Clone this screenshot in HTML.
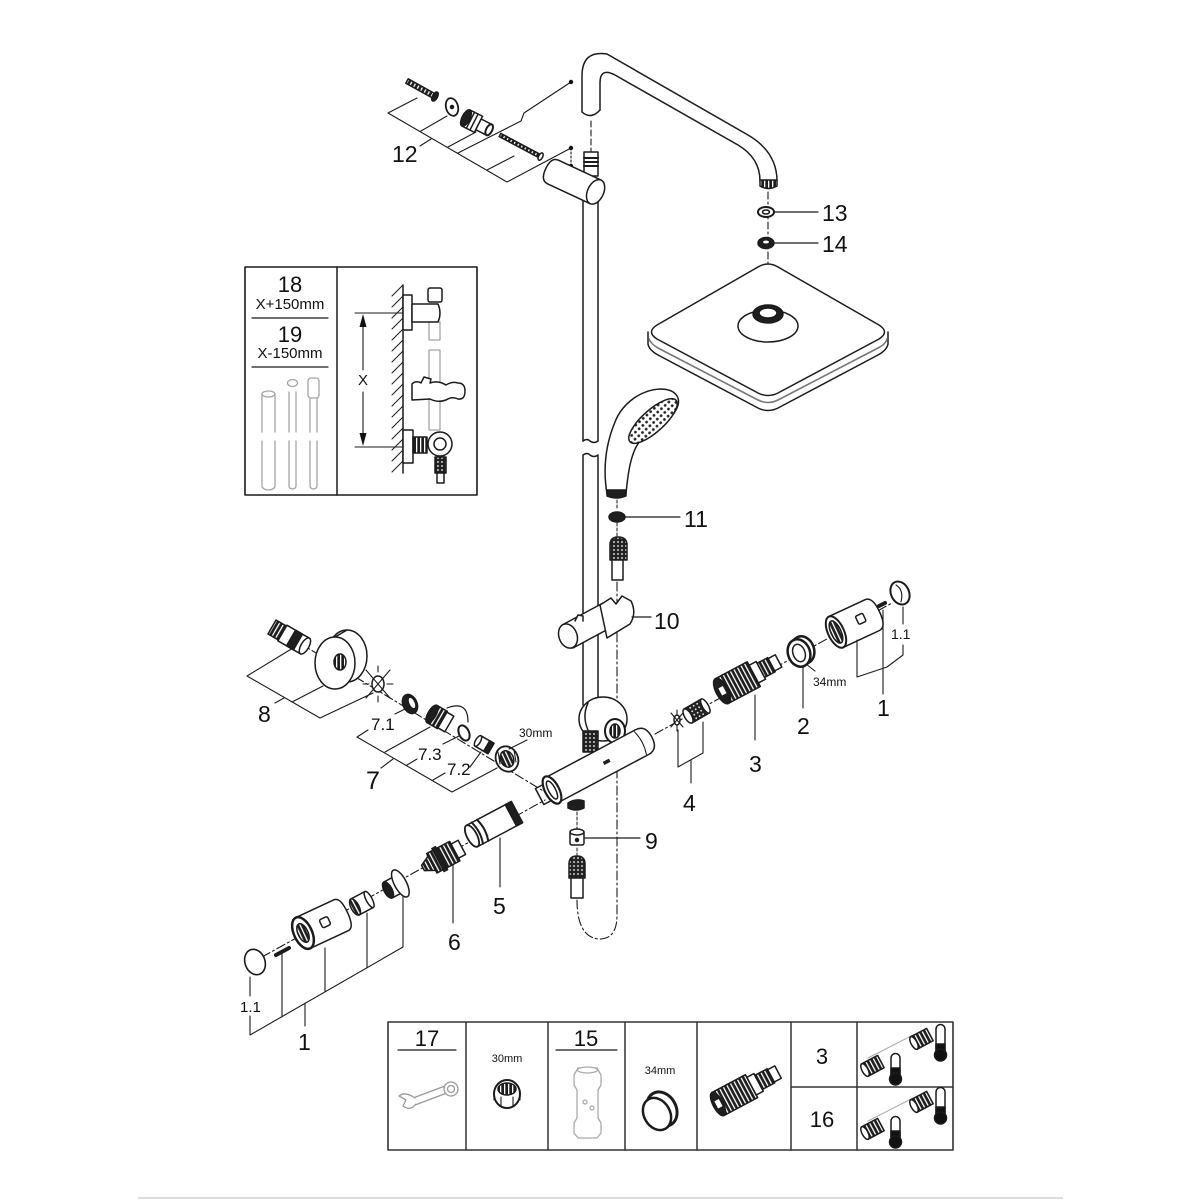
<!DOCTYPE html>
<html><head><meta charset="utf-8"><style>
html,body{margin:0;padding:0;background:#fff;width:1200px;height:1200px;overflow:hidden}
svg{display:block}
text{font-family:"Liberation Sans",Arial,sans-serif;fill:#111;stroke:none}
</style></head><body>
<svg width="1200" height="1200" viewBox="0 0 1200 1200" xmlns="http://www.w3.org/2000/svg">
<defs>
 <pattern id="thr" width="4" height="4" patternUnits="userSpaceOnUse"><rect width="4" height="4" fill="#1e1e1e"/><rect width="1.3" height="4" fill="#fff"/></pattern>
 <pattern id="dots" width="5" height="5" patternUnits="userSpaceOnUse"><rect width="5" height="5" fill="#fff"/><circle cx="2.5" cy="2.5" r="1.4" fill="#222"/></pattern>
 <pattern id="chk" width="4" height="4" patternUnits="userSpaceOnUse"><rect width="4" height="4" fill="#222"/><circle cx="2" cy="2" r="0.9" fill="#fff"/></pattern>
</defs>
<g fill="none" stroke="#1b1b1b" stroke-width="1.5" stroke-linejoin="round" stroke-linecap="round">

<!-- ===== shower arm ===== -->
<path d="M582,112 V76 Q582,50 607,54 L748,135 Q777,152 777,181"/>
<path d="M600,110 V83 Q600,67 615,75 L738,145 Q760,158 760,181"/>
<path d="M582,112 Q591,120 600,110"/>
<path d="M760,180 L777,180 L777,186 Q768,191 760,186 Z" fill="url(#thr)"/>
<path d="M591,121 V151" stroke-dasharray="6 3" stroke-width="1.1"/>
<path d="M768,192 V306" stroke-dasharray="7 3 2 3" stroke-width="1.1"/>

<!-- rings 13 / 14 -->
<ellipse cx="766" cy="212" rx="8" ry="5" fill="#fff" stroke-width="2"/>
<ellipse cx="766" cy="212" rx="3.5" ry="2"/>
<ellipse cx="766" cy="243" rx="8" ry="5.5" fill="#1e1e1e"/>
<ellipse cx="766" cy="242" rx="3" ry="1.5" fill="#fff" stroke="none"/>
<path d="M775,212 H818 M775,243 H818" stroke-width="1.2"/>

<!-- overhead shower -->
<path d="M648,332 V344 Q649,350 658,355 L758,408 Q768,413 778,408 L878,355 Q887,350 888,344 V332" fill="#fff"/>
<path d="M649,339 Q651,344 658,348 L758,400 Q768,405 778,400 L878,348 Q886,344 887,339" stroke="#777" stroke-width="1.6"/>
<path d="M758,267 Q768,261 778,267 L879,325 Q890,332 879,339 L778,393 Q768,398 758,393 L657,339 Q646,332 657,325 Z" fill="#fff"/>
<ellipse cx="768" cy="326" rx="30" ry="16" fill="#fff"/>
<ellipse cx="768" cy="314" rx="15" ry="9" fill="#1e1e1e"/>
<ellipse cx="768" cy="313" rx="9" ry="5" fill="#fff" stroke-width="1.6"/>

<!-- ===== part 12 ===== -->
<g transform="translate(407,81) rotate(29)">
 <rect x="0" y="-2.5" width="30" height="5" fill="url(#thr)"/>
 <ellipse cx="32" cy="0" rx="2.5" ry="5" fill="#1e1e1e"/>
</g>
<ellipse cx="452" cy="107" rx="6" ry="9" transform="rotate(-15 452 107)" fill="#fff" stroke-width="1.8"/>
<circle cx="452" cy="107" r="1.5" fill="#111"/>
<g transform="translate(466,118) rotate(27)">
 <rect x="0" y="-9" width="14" height="18" fill="#fff"/>
 <path d="M5,-9 V9 M9,-9 V9"/>
 <rect x="14" y="-6" width="12" height="12" fill="#fff"/>
 <ellipse cx="0" cy="0" rx="4" ry="9" fill="#1e1e1e"/>
 <ellipse cx="26" cy="0" rx="3" ry="6" fill="#fff" stroke-width="2"/>
</g>
<g transform="translate(500,135) rotate(28)">
 <rect x="0" y="-1.8" width="44" height="3.6" fill="url(#thr)"/>
 <ellipse cx="46" cy="0" rx="2" ry="4" fill="#fff"/>
</g>
<g stroke-width="1.1">
 <path d="M417,98 L388,113 L507,182 L571,148"/>
 <path d="M421,131 L447,116 M448,147 L476,132 M487,170 L514,156"/>
 <path d="M458,153 L521,121 L524,113 L571,82"/>
 <path d="M571,148 V166" stroke-dasharray="2 2"/>
 <path d="M420,146 L431,139"/>
</g>
<circle cx="571" cy="82" r="2.2" fill="#111" stroke="none"/>
<circle cx="571" cy="148" r="2.2" fill="#111" stroke="none"/>
<circle cx="571" cy="166" r="2.2" fill="#111" stroke="none"/>

<!-- ===== rail ===== -->
<path d="M583,196 V441 M598,196 V441"/>
<path d="M583,441 Q587,438 590,441 Q594,444 598,441"/>
<path d="M583,455 Q587,452 590,455 Q594,458 598,455 M583,455 V705 M598,455 V705"/>

<!-- top bracket -->
<rect x="584" y="152" width="14" height="24" fill="#fff"/>
<path d="M584,158 H598 M584,162 H598 M584,166 H598" stroke-width="2"/>
<g transform="translate(553,172) rotate(25)">
 <path d="M0,-13 H47 V13 H0 Q-8,13 -8,0 Q-8,-13 0,-13 Z" fill="#fff"/>
 <ellipse cx="47" cy="0" rx="8" ry="13" fill="#fff"/>
</g>

<!-- hand shower -->
<path d="M607,494 C603,470 605,446 615,422 C622,404 640,390 660,389 C677,389 682,399 676,410 C668,424 652,432 640,441 C631,452 628,472 626,494 Z" fill="#fff"/>
<ellipse cx="653" cy="421" rx="31" ry="11" transform="rotate(-42 653 421)" fill="url(#dots)"/>
<path d="M607,490 H626 V496 Q617,500 607,496 Z" fill="#1e1e1e"/>
<path d="M617,500 V510" stroke-dasharray="3 2" stroke-width="1"/>
<ellipse cx="617" cy="517" rx="8" ry="5" fill="#1e1e1e"/>
<path d="M626,517 H680" stroke-width="1.2"/>
<path d="M617,523 V536" stroke-dasharray="3 2" stroke-width="1"/>
<path d="M610,560 V545 Q610,537 618,537 Q627,537 627,545 V560 Z" fill="url(#chk)"/>
<rect x="612" y="560" width="11" height="20" fill="#fff"/>

<!-- dash-dot hose line -->
<path d="M617,582 V915 Q617,940 598,939 Q577,936 577,900" stroke-dasharray="9 3 2 3" stroke-width="1.1"/>

<!-- slider 10 -->
<path d="M564,624 L603,603 L612,627 L573,648 Z" fill="#fff"/>
<ellipse cx="568" cy="636" rx="9" ry="12.5" transform="rotate(-20 568 636)" fill="#fff"/>
<path d="M575,621 l3,-6 l5,1 l0,5" fill="#fff"/>
<path d="M600,605 L611,598 L616,604 L622,596 L631,601 Q637,613 630,624 L607,638 Z" fill="#fff"/>
<path d="M632,617 H651" stroke-width="1.2"/>

<!-- wall bracket disc -->
<ellipse cx="603" cy="719" rx="24" ry="22" fill="#fff"/>
<path d="M588,703 Q581,718 590,734"/>
<ellipse cx="615" cy="731" rx="10" ry="12" fill="#fff" stroke-width="2"/>
<ellipse cx="615" cy="731" rx="5" ry="7" fill="url(#thr)"/>
<path d="M583,731 H598 V752 H583 Z" fill="url(#chk)"/>

<!-- thermostat -->
<g transform="translate(552,790) rotate(-28)">
 <rect x="-14" y="-9" width="16" height="18" fill="#fff"/>
 <path d="M0,-14 H102 Q113,-14 113,0 Q113,14 102,14 H0 Z" fill="#fff"/>
 <path d="M100,-13 Q104,0 100,13" stroke-width="1"/>
 <ellipse cx="0" cy="0" rx="7" ry="15" fill="#fff" stroke-width="2.2"/>
 <ellipse cx="0" cy="0" rx="3.5" ry="10" fill="#fff"/>
 <rect x="58" y="-1" width="7" height="3.5" fill="#1e1e1e" stroke="none"/>
</g>
<path d="M568,803 Q576,798 584,801 L584,808 Q576,812 568,808 Z" fill="#1e1e1e"/>

<!-- 9 -->
<path d="M577,812 V829 M577,848 V855" stroke-dasharray="3 2" stroke-width="1"/>
<rect x="570" y="831" width="14" height="14" rx="2" fill="#fff"/>
<ellipse cx="577" cy="832" rx="7" ry="3" fill="#fff"/>
<circle cx="577" cy="840" r="1.5" fill="#1e1e1e"/>
<path d="M585,838 H640" stroke-width="1.2"/>
<path d="M569,878 V864 Q569,856 577,856 Q585,856 585,864 V878 Z" fill="url(#chk)"/>
<rect x="571" y="878" width="12" height="20" fill="#fff"/>

<!-- ===== left axis parts 8 / 7 ===== -->
<path d="M283,633 L545,792" stroke-dasharray="9 3 2 3" stroke-width="1.1"/>
<g transform="translate(272,627) rotate(30)">
 <rect x="0" y="-8" width="12" height="16" fill="url(#thr)"/>
 <rect x="12" y="-9" width="26" height="18" fill="#fff"/>
 <rect x="22" y="-9" width="8" height="18" fill="#1e1e1e"/>
 <ellipse cx="38" cy="0" rx="4" ry="9" fill="#fff"/>
</g>
<ellipse cx="347" cy="656" rx="20" ry="26" fill="#fff"/>
<path d="M335,637 L347,630 L347,682 L335,689 Z" fill="#fff" stroke="none"/>
<path d="M335,637 L347,630 M335,689 L347,682"/>
<ellipse cx="335" cy="663" rx="20" ry="26" fill="#fff"/>
<ellipse cx="340" cy="662" rx="6" ry="8" fill="url(#thr)"/>
<ellipse cx="378" cy="684" rx="6" ry="8" fill="#fff"/>
<path d="M366,670 L390,698 M390,670 L366,698 M378,666 V672 M378,696 V702 M363,684 H369 M387,684 H393" stroke-width="1.1"/>
<ellipse cx="410" cy="704" rx="7" ry="10" transform="rotate(-25 410 704)" fill="#1e1e1e"/>
<ellipse cx="412" cy="703" rx="2.5" ry="5.5" transform="rotate(-25 412 703)" fill="#fff" stroke="none"/>
<g transform="translate(432,714) rotate(30)">
 <rect x="0" y="-10" width="12" height="20" fill="url(#thr)"/>
 <rect x="12" y="-9" width="8" height="18" fill="#fff"/>
 <ellipse cx="0" cy="0" rx="4" ry="10" fill="#1e1e1e"/>
</g>
<path d="M447,708 Q468,700 468,722" stroke-width="1.2"/>
<ellipse cx="464" cy="733" rx="5" ry="8" transform="rotate(-25 464 733)" fill="#fff" stroke-width="2"/>
<g transform="translate(478,741) rotate(30)">
 <rect x="0" y="-6" width="15" height="12" fill="#fff"/>
 <rect x="10" y="-6" width="5" height="12" fill="#1e1e1e"/>
 <ellipse cx="0" cy="0" rx="2.5" ry="6" fill="#fff"/>
</g>
<ellipse cx="507" cy="759" rx="11" ry="13" transform="rotate(-25 507 759)" fill="#fff" stroke-width="1.8"/>
<ellipse cx="507" cy="759" rx="6.5" ry="8.5" transform="rotate(-25 507 759)" fill="url(#thr)"/>
<path d="M498,752 L500,764 M514,750 L516,762" stroke-width="1"/>
<g stroke-width="1.1">
 <path d="M293,648 L247,676 L320,718 L373,693 M292,702 L323,686 M275,703 L284,698"/>
 <path d="M368,730 L357,737 L452,792 L497,768"/>
 <path d="M395,714 L405,709 M385,752 L430,727 M407,765 L417,759 M443,744 L459,736 M433,780 L445,773 M470,767 L481,752 M381,768 L393,759 M527,740 L509,749"/>
</g>

<!-- ===== right axis parts 4 3 2 1 ===== -->
<path d="M655,734 L892,603" stroke-dasharray="9 3 2 3" stroke-width="1.1"/>
<ellipse cx="677" cy="720" rx="3" ry="5" fill="#fff"/>
<path d="M671,713 L683,727 M683,713 L671,727 M677,710 V714 M677,726 V731" stroke-width="1.1"/>
<g transform="translate(688,716) rotate(-30)">
 <rect x="0" y="-8" width="20" height="16" fill="url(#chk)"/>
 <ellipse cx="0" cy="0" rx="3.5" ry="8" fill="#fff"/>
 <ellipse cx="20" cy="0" rx="3" ry="8" fill="#fff"/>
</g>
<g transform="translate(722,691) rotate(-28)">
 <rect x="0" y="-14" width="36" height="28" fill="url(#thr)"/>
 <ellipse cx="0" cy="0" rx="6" ry="14" fill="#1e1e1e"/>
 <rect x="-2" y="-4" width="5" height="8" fill="#fff" stroke="none"/>
 <rect x="36" y="-10" width="8" height="20" fill="#fff"/>
 <rect x="44" y="-8" width="12" height="16" fill="url(#thr)"/>
 <rect x="56" y="-7" width="8" height="14" fill="#fff"/>
</g>
<ellipse cx="803" cy="650" rx="11" ry="14" transform="rotate(-20 803 650)" fill="#fff" stroke-width="2.5"/>
<ellipse cx="799" cy="653" rx="11" ry="14" transform="rotate(-20 799 653)" fill="#fff" stroke-width="2.5"/>
<ellipse cx="799" cy="653" rx="6" ry="9" transform="rotate(-20 799 653)" fill="#fff"/>
<g transform="translate(836,632) rotate(-25)">
 <path d="M0,-17 H40 Q48,-17 48,0 Q48,17 40,17 H0 Z" fill="#fff"/>
 <ellipse cx="0" cy="0" rx="8" ry="17" fill="#fff" stroke-width="2"/>
 <ellipse cx="0" cy="0" rx="5" ry="12" fill="url(#thr)"/>
 <rect x="24" y="-6" width="8" height="9" rx="1.5" fill="#fff"/>
</g>
<path d="M879,606 L885,603" stroke-width="4"/>
<ellipse cx="900" cy="593" rx="9" ry="12" transform="rotate(-25 900 593)" fill="#fff" stroke-width="2"/>
<path d="M896,585 Q904,590 901,602" stroke-width="1.1"/>
<g stroke-width="1.1">
 <path d="M678,730 V767 L703,753 V722 M691,760 V783"/>
 <path d="M755,695 V740"/>
 <path d="M803,666 V708"/>
 <path d="M815,671 L806,664"/>
 <path d="M857,640 V677 L887,667 L903,655 V645 M883,610 V694 M903,607 V624"/>
</g>

<!-- ===== bottom-left parts ===== -->
<path d="M262,957 L545,800" stroke-dasharray="9 3 2 3" stroke-width="1.1"/>
<g transform="translate(472,836) rotate(-28)">
 <rect x="0" y="-12" width="50" height="24" fill="#fff"/>
 <ellipse cx="0" cy="0" rx="5" ry="12" fill="#fff" stroke-width="1.8"/>
 <path d="M6,-12 Q10,0 6,12 M12,-12 Q16,0 12,12" stroke-width="2"/>
 <rect x="44" y="-12" width="7" height="24" fill="#1e1e1e"/>
</g>
<g transform="translate(423,868) rotate(-28)">
 <path d="M0,-3 L10,-8 V8 L0,3 Z" fill="url(#thr)"/>
 <rect x="10" y="-11" width="26" height="22" fill="url(#thr)"/>
 <rect x="17" y="-13" width="4" height="26" fill="#1e1e1e"/>
 <rect x="36" y="-8" width="8" height="16" fill="#fff"/>
</g>
<g transform="translate(388,890) rotate(-28)">
 <rect x="0" y="-9" width="12" height="18" fill="#fff"/>
 <ellipse cx="14" cy="0" rx="6" ry="15" fill="#fff"/>
 <ellipse cx="0" cy="0" rx="4" ry="9" fill="#1e1e1e"/>
</g>
<g transform="translate(355,907) rotate(-28)">
 <rect x="0" y="-9" width="16" height="18" fill="#fff"/>
 <ellipse cx="0" cy="0" rx="4" ry="9" fill="url(#thr)"/>
 <ellipse cx="16" cy="0" rx="3" ry="9" fill="#fff"/>
</g>
<g transform="translate(303,933) rotate(-25)">
 <path d="M0,-17 H42 Q49,-17 49,0 Q49,17 42,17 H0 Z" fill="#fff"/>
 <ellipse cx="0" cy="0" rx="9" ry="17" fill="#fff" stroke-width="2.5"/>
 <ellipse cx="0" cy="0" rx="5" ry="10" fill="url(#thr)"/>
 <rect x="20" y="-5" width="9" height="9" rx="2" fill="#fff"/>
</g>
<path d="M276,955 L289,948" stroke-width="4"/>
<ellipse cx="255" cy="962" rx="10" ry="13" transform="rotate(-20 255 962)" fill="#fff" stroke-width="1.6"/>
<g stroke-width="1.1">
 <path d="M250,977 V996 M250,1016 V1035 L403,947 V896 M282,952 V1017 M325,948 V992 M367,913 V968 M305,1003 V1026"/>
 <path d="M500,838 V887 M453,865 V923"/>
</g>

<!-- ===== inset box ===== -->
<rect x="245" y="267" width="232" height="228" stroke-width="1.6"/>
<path d="M337,267 V495"/>
<path d="M252,318 H328 M252,367 H328" stroke-width="1.2"/>
<g stroke="#a5a5a5" stroke-width="1.3" fill="#fff">
 <path d="M262,432 V394 M275,394 V432 M262,441 V486 A6.5,4 0 0 0 275,486 V441"/>
 <ellipse cx="268.5" cy="394" rx="6.5" ry="3"/>
 <path d="M289,432 V392 M296,392 V432 M289,441 V486 A3.5,3 0 0 0 296,486 V441"/>
 <ellipse cx="292.5" cy="383" rx="5" ry="3.5"/>
 <path d="M310,432 V398 M317,398 V432 M310,441 V486 A3.5,3 0 0 0 317,486 V441"/>
 <rect x="308" y="378" width="11" height="20" rx="3"/>
 <rect x="429" y="322" width="11" height="18"/>
 <rect x="429" y="350" width="11" height="80"/>
</g>
<path d="M403,285 V473"/>
<path d="M392,296 L403,285 M392,307 L403,296 M392,318 L403,307 M392,329 L403,318 M392,340 L403,329 M392,351 L403,340 M392,362 L403,351 M392,373 L403,362 M392,384 L403,373 M392,395 L403,384 M392,406 L403,395 M392,417 L403,406 M392,428 L403,417 M392,439 L403,428 M392,450 L403,439 M392,461 L403,450 M392,472 L403,461" stroke-width="1"/>
<rect x="403" y="295" width="9" height="35" fill="#fff"/>
<path d="M412,304 H438 Q442,313 438,322 H412 Z" fill="#fff"/>
<rect x="428" y="288" width="14" height="14" rx="2" fill="#fff"/>
<path d="M412,384 Q416,380 421,383 L424,377 L431,379 L430,383 Q438,380 446,385 Q452,381 458,383 Q465,383 465,391 Q465,400 458,399 Q452,396 446,400 Q438,403 430,399 L412,400 Z" fill="#fff"/>
<rect x="403" y="430" width="10" height="33" fill="#fff"/>
<rect x="413" y="437" width="14" height="16" fill="url(#thr)"/>
<circle cx="440" cy="444" r="12" fill="#fff"/>
<circle cx="440" cy="444" r="6"/>
<rect x="435" y="457" width="11" height="16" fill="url(#chk)"/>
<rect x="437" y="473" width="7" height="10" fill="#fff"/>
<path d="M355,313 H403 M355,447 H403" stroke-width="1.1"/>
<path d="M363,326 V370 M363,392 V434" stroke-width="1.1"/>
<path d="M363,314 L359.5,327 L366.5,327 Z M363,446 L359.5,433 L366.5,433 Z" fill="#111" stroke="none"/>

<!-- ===== table ===== -->
<rect x="388" y="1022" width="565" height="128" stroke-width="1.6" stroke="#333"/>
<path d="M466,1022 V1150 M548,1022 V1150 M625,1022 V1150 M697,1022 V1150 M791,1022 V1150 M857,1022 V1150 M791,1087 H953" stroke="#333"/>
<path d="M398,1050 H456 M556,1050 H617" stroke-width="1.2"/>
<g stroke="#999" fill="#fff" stroke-width="1.3">
 <path d="M413,1098 L445,1086 L447,1093 L415,1105 Z"/>
 <path d="M415,1098 Q405,1091 399,1096 L406,1100 L403,1106 Q410,1111 415,1105"/>
 <circle cx="451" cy="1089" r="7"/>
 <circle cx="451" cy="1089" r="3.5"/>
</g>
<ellipse cx="507" cy="1094" rx="13" ry="14" fill="#fff" stroke-width="2"/>
<ellipse cx="507" cy="1089" rx="9" ry="6" fill="url(#thr)"/>
<path d="M494,1092 V1100 M520,1092 V1100 M501,1107 V1097 M513,1107 V1097" stroke-width="1.1"/>
<g stroke="#aaa" fill="#fff" stroke-width="1.3">
 <path d="M574,1075 L578,1068 H597 L601,1075 V1085 L598,1090 V1118 L601,1123 V1133 L597,1138 H578 L574,1133 V1123 L577,1118 V1090 L574,1085 Z"/>
 <ellipse cx="587.5" cy="1070" rx="10" ry="3"/>
 <circle cx="585" cy="1102" r="2"/><circle cx="592" cy="1108" r="2"/>
</g>
<ellipse cx="662" cy="1109" rx="14" ry="18" transform="rotate(-30 662 1109)" fill="#fff" stroke-width="3"/>
<ellipse cx="657" cy="1114" rx="13" ry="17" transform="rotate(-30 657 1114)" fill="#fff" stroke-width="2.5"/>
<g transform="translate(718,1104) rotate(-28)">
 <rect x="0" y="-13" width="38" height="26" fill="url(#thr)"/>
 <ellipse cx="0" cy="0" rx="5" ry="13" fill="#1e1e1e"/>
 <rect x="-2" y="-4" width="5" height="8" fill="#fff" stroke="none"/>
 <rect x="38" y="-10" width="8" height="20" fill="#fff"/>
 <rect x="46" y="-8" width="14" height="16" fill="url(#thr)"/>
 <rect x="60" y="-7" width="8" height="14" fill="#fff"/>
</g>
<!-- thermometer icons -->
<g>
 <path d="M868,1058 L913,1035 M868,1121 L913,1098" stroke="#aaa" stroke-width="1"/>
 <g transform="translate(914,1043) rotate(-28)"><rect x="0" y="-7" width="18" height="14" fill="url(#thr)"/><ellipse cx="0" cy="0" rx="3" ry="7" fill="#fff"/></g>
 <g transform="translate(865,1070) rotate(-28)"><rect x="0" y="-7" width="18" height="14" fill="url(#thr)"/><ellipse cx="0" cy="0" rx="3" ry="7" fill="#fff"/></g>
 <g transform="translate(914,1106) rotate(-28)"><rect x="0" y="-7" width="18" height="14" fill="url(#thr)"/><ellipse cx="0" cy="0" rx="3" ry="7" fill="#fff"/></g>
 <g transform="translate(865,1133) rotate(-28)"><rect x="0" y="-7" width="18" height="14" fill="url(#thr)"/><ellipse cx="0" cy="0" rx="3" ry="7" fill="#fff"/></g>
 <path d="M936,1053 V1029 A4.5,4.5 0 0 1 945,1029 V1053" fill="#fff"/>
 <rect x="936" y="1044" width="9" height="11" fill="#111"/><circle cx="940.5" cy="1055" r="6" fill="#111"/>
 <path d="M891,1078 V1058 A4.5,4.5 0 0 1 900,1058 V1078" fill="#fff"/>
 <rect x="891" y="1068" width="9" height="10" fill="#111"/><circle cx="895.5" cy="1079" r="6" fill="#111"/>
 <path d="M936,1116 V1092 A4.5,4.5 0 0 1 945,1092 V1116" fill="#fff"/>
 <rect x="936" y="1107" width="9" height="11" fill="#111"/><circle cx="940.5" cy="1118" r="6" fill="#111"/>
 <path d="M891,1141 V1121 A4.5,4.5 0 0 1 900,1121 V1141" fill="#fff"/>
 <rect x="891" y="1131" width="9" height="10" fill="#111"/><circle cx="895.5" cy="1142" r="6" fill="#111"/>
</g>

<!-- footer line -->
<path d="M139,1198 H1062" stroke="#ddd" stroke-width="2"/>
</g>

<!-- ===== labels ===== -->
<g font-size="23">
 <text x="392" y="162">12</text>
 <text x="822" y="221">13</text>
 <text x="822" y="252">14</text>
 <text x="684" y="527">11</text>
 <text x="654" y="629">10</text>
 <text x="258" y="722">8</text>
 <text x="366" y="789" font-size="25">7</text>
 <text x="683" y="811">4</text>
 <text x="749" y="772">3</text>
 <text x="797" y="734">2</text>
 <text x="877" y="716">1</text>
 <text x="645" y="849">9</text>
 <text x="493" y="914">5</text>
 <text x="448" y="950">6</text>
 <text x="298" y="1050">1</text>
</g>
<g font-size="17">
 <text x="371" y="730">7.1</text>
 <text x="418" y="760">7.3</text>
 <text x="447" y="775">7.2</text>
</g>
<text x="519" y="737" font-size="12">30mm</text>
<text x="813" y="686" font-size="12">34mm</text>
<text x="891" y="639" font-size="14">1.1</text>
<text x="240" y="1012" font-size="15">1.1</text>

<g text-anchor="middle">
 <text x="290" y="292" font-size="22">18</text>
 <text x="290" y="309" font-size="15">X+150mm</text>
 <text x="290" y="342" font-size="22">19</text>
 <text x="290" y="358" font-size="15">X-150mm</text>
 <text x="363" y="385" font-size="15">X</text>
 <text x="427" y="1046" font-size="22">17</text>
 <text x="507" y="1062" font-size="11">30mm</text>
 <text x="586" y="1046" font-size="22">15</text>
 <text x="660" y="1074" font-size="11">34mm</text>
 <text x="822" y="1064" font-size="22">3</text>
 <text x="822" y="1127" font-size="22">16</text>
</g>
</svg>
</body></html>
